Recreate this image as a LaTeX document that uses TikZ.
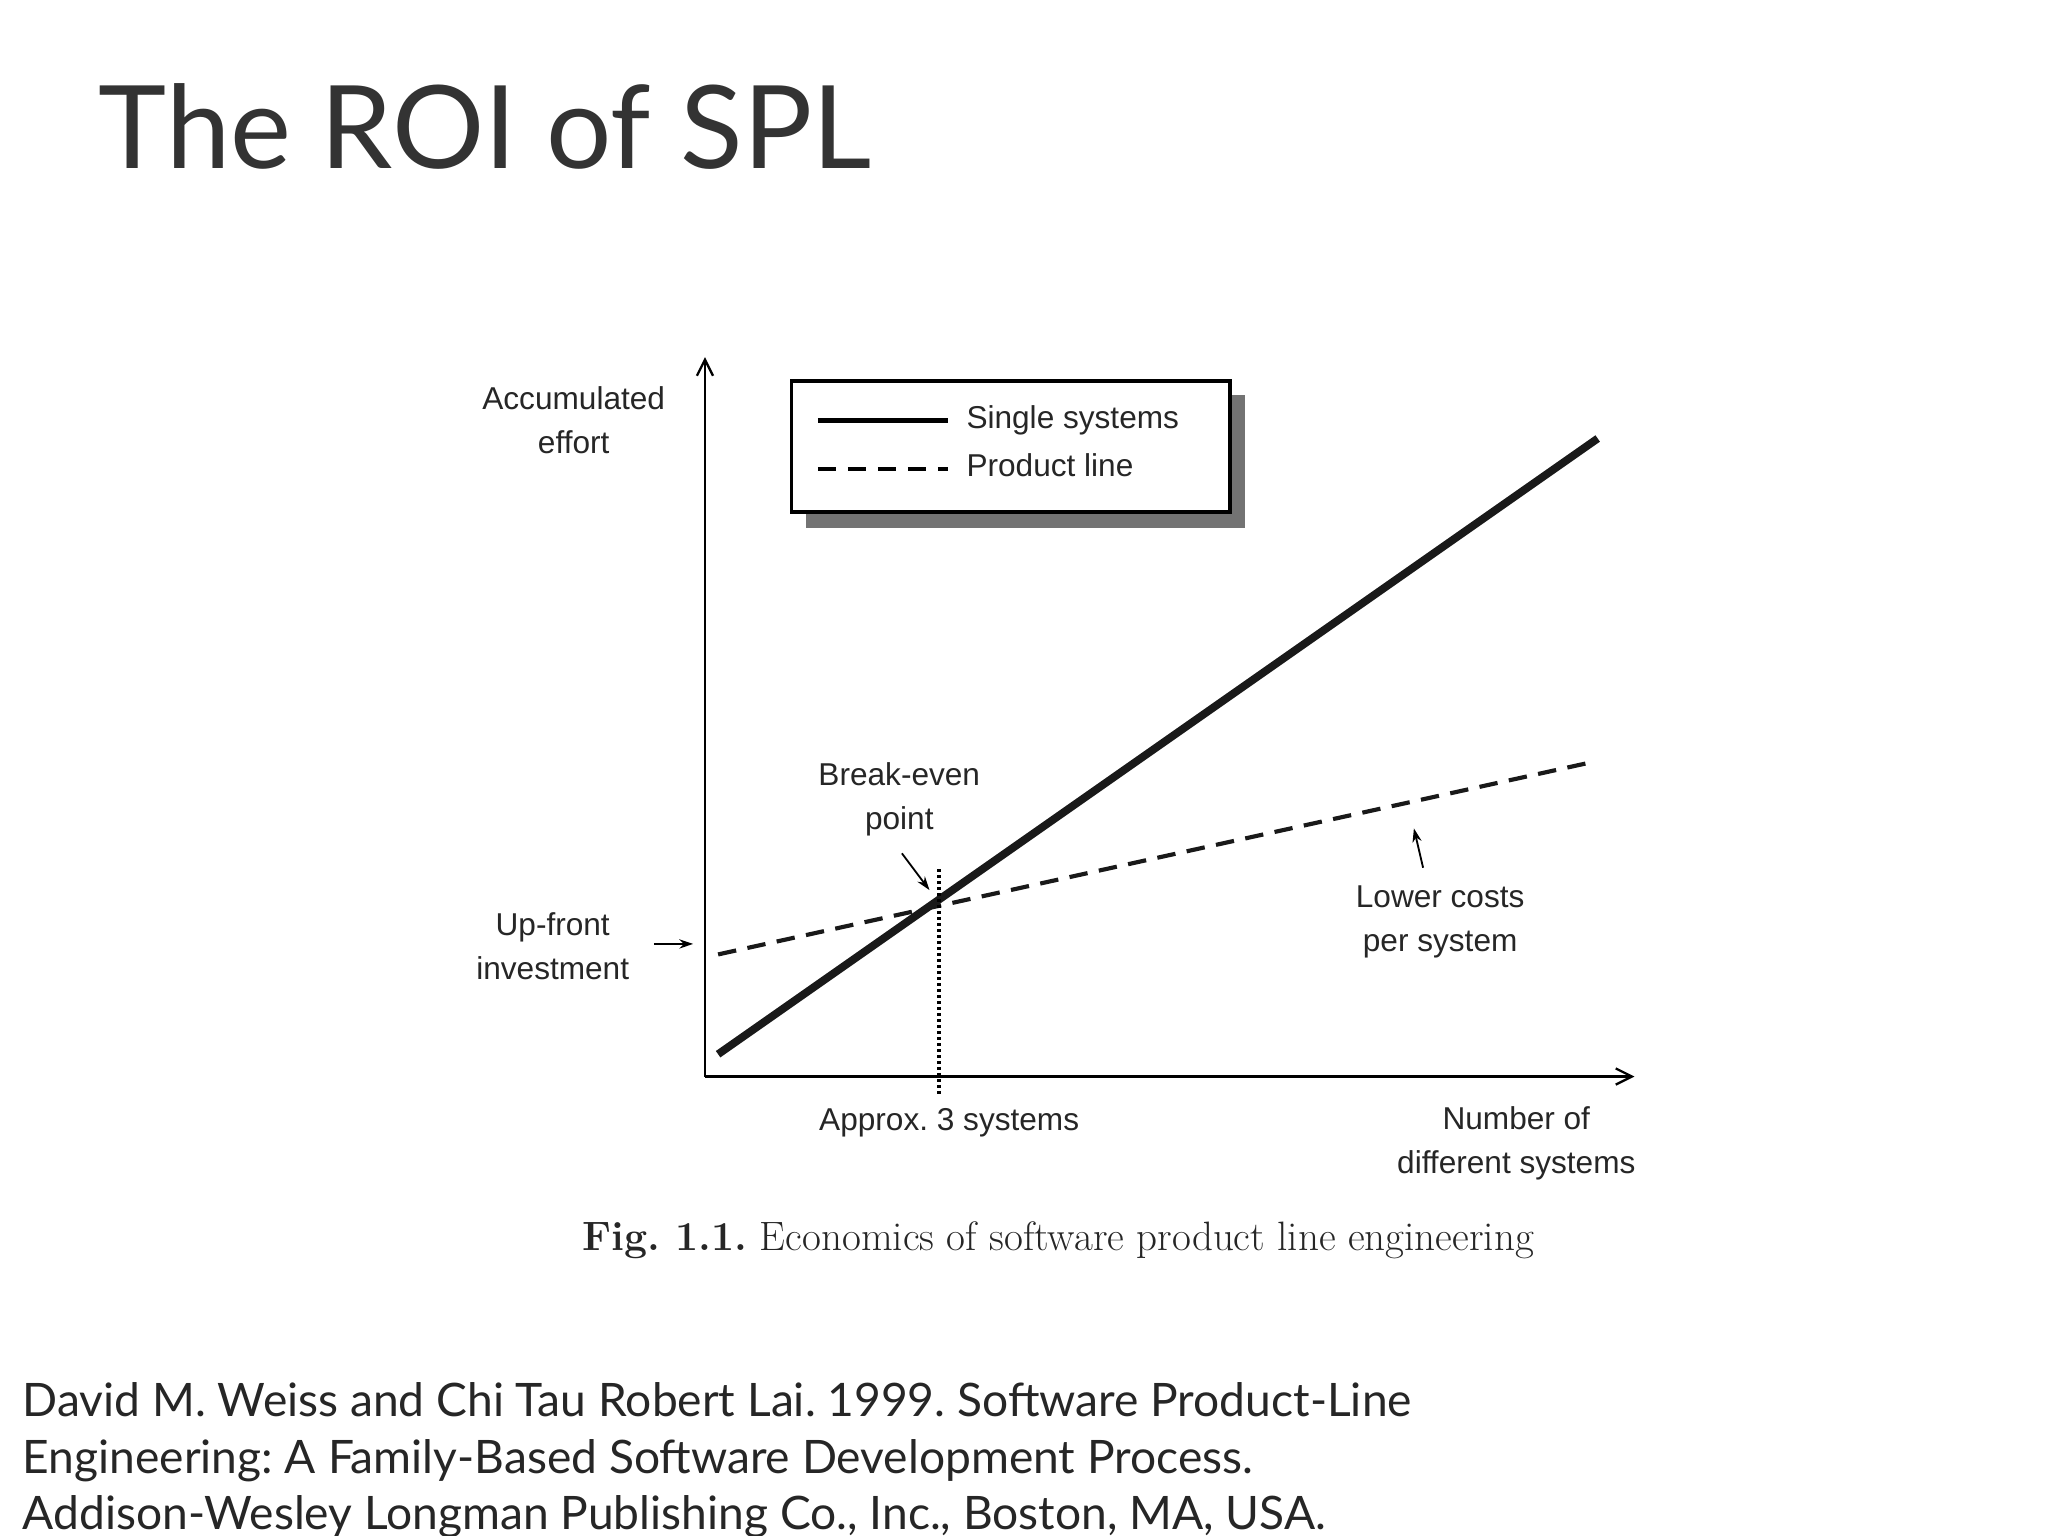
\documentclass[tikz,border=0pt]{standalone}
\usepackage{fontspec}
\setmainfont{Liberation Sans}
\newfontfamily\titlefont{Lato}
\usetikzlibrary{arrows.meta}
\begin{document}
\frenchspacing
\begin{tikzpicture}[x=0.02cm,y=-0.02cm,
  lbl/.style={font=\fontsize{13.7}{19}\selectfont,align=center,text=black!85},
  ann/.style={-{Stealth[length=6pt,width=4pt]},line width=0.8pt},
  axis/.style={-{Straight Barb[length=7pt,width=7pt]},line width=1pt}]
\useasboundingbox[fill=white] (0,0) rectangle (1560,1170);
\node[anchor=base west,inner sep=0,font=\titlefont\fontsize{50}{60}\selectfont,text=black!80] (title) at (75,128) {The ROI of SPL};
% axes
\coordinate (o) at (537,820);
\coordinate (ytop) at (537,272);
\coordinate (xend) at (1245,820);
\draw[axis] (o) -- (ytop);
\draw[axis] (o) -- (xend);
% lines
\coordinate (s1) at (547,803); \coordinate (s2) at (1217,334);
\coordinate (p1) at (547,727); \coordinate (p2) at (1215,580);
\draw[line width=3.4pt,black!90] (s1) -- (s2);
\draw[line width=1.8pt,dash pattern=on 8pt off 5pt,black!90] (p1) -- (p2);
\coordinate (d1) at (715,662); \coordinate (d2) at (715,835);
\draw[line width=1.6pt,dash pattern=on 1.2pt off 1.4pt] (d1) -- (d2);
% legend
\fill[black!55] (614,301) rectangle (948,402);
\draw[line width=1.6pt,fill=white] (603,290) rectangle (937,390);
\coordinate (l1a) at (623,320); \coordinate (l1b) at (722,320);
\coordinate (l2a) at (623,357); \coordinate (l2b) at (722,357);
\draw[line width=2.2pt] (l1a) -- (l1b);
\draw[line width=1.8pt,dash pattern=on 8pt off 5pt] (l2a) -- (l2b);
\node[lbl,anchor=west] (leg1) at (730,320) {Single systems};
\node[lbl,anchor=west] (leg2) at (730,354) {Product line};
% labels
\node[lbl] (acc) at (437,320) {Accumulated\\effort};
\node[lbl] (up) at (421,721) {Up-front\\investment};
\coordinate (upa) at (498,719); \coordinate (upb) at (528,719);
\draw[ann] (upa) -- (upb);
\node[lbl] (be) at (685,609) {Break-even\\point};
\coordinate (bea) at (687,650); \coordinate (beb) at (708,678);
\draw[ann] (bea) -- (beb);
\node[lbl] (lc) at (1097,702) {Lower costs\\per system};
\coordinate (lca) at (1084,661); \coordinate (lcb) at (1077,631);
\draw[ann] (lca) -- (lcb);
\node[lbl] (ap) at (723,855) {Approx. 3 systems};
\node[lbl] (num) at (1155,871) {Number of\\different systems};
\node[font=\fontspec{Latin Modern Roman}\fontsize{17.8}{20}\selectfont,text=black!85] (cap) at (806,945) {\textbf{Fig. 1.1.} Economics of software product line engineering};
\node[anchor=north west,inner sep=0,align=left,font=\titlefont\fontsize{20}{24.5}\selectfont,text=black!85] (ref) at (17,1053) {David M. Weiss and Chi Tau Robert Lai. 1999. Software Product-Line\\Engineering: A Family-Based Software Development Process.\\Addison-Wesley Longman Publishing Co., Inc., Boston, MA, USA.};
\end{tikzpicture}
\end{document}
